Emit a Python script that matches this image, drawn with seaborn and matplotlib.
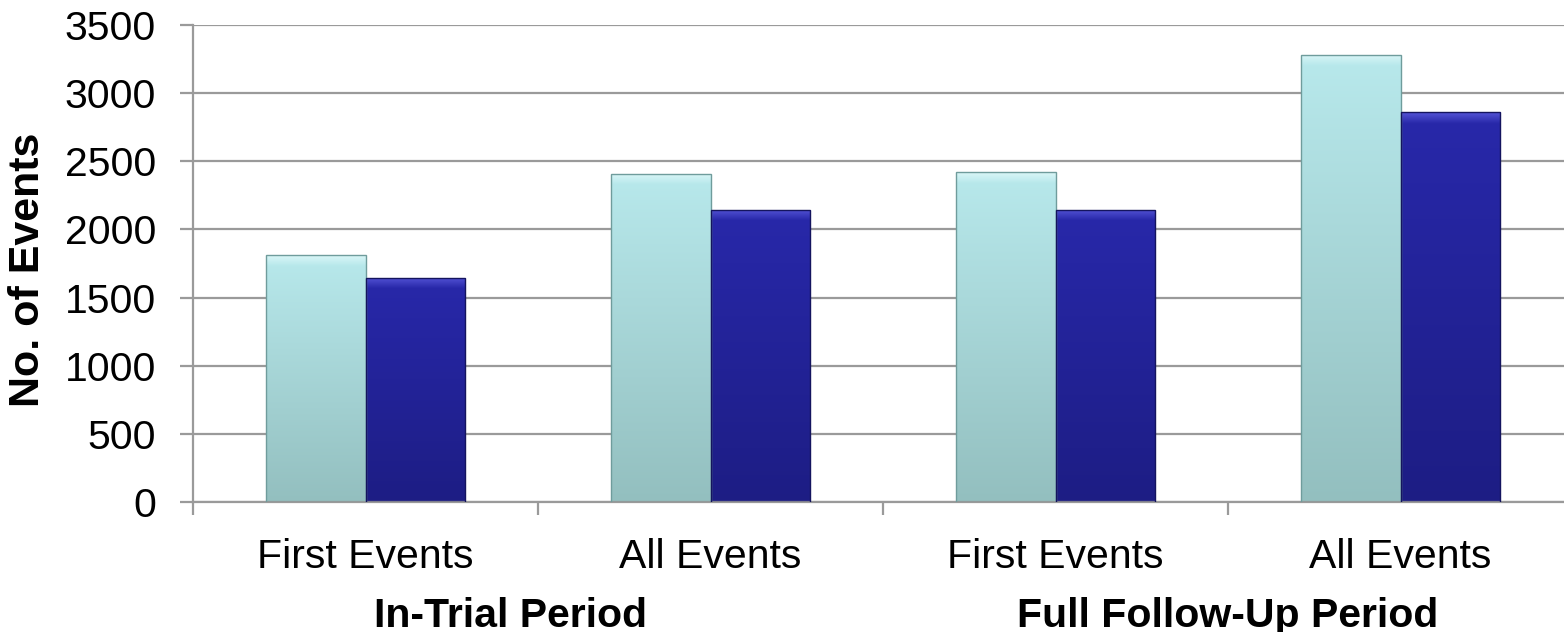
import numpy as np
import pandas as pd
import matplotlib
matplotlib.use("Agg")
import matplotlib.pyplot as plt
import seaborn as sns
from matplotlib.colors import to_rgb
from matplotlib.transforms import blended_transform_factory

# chart values
periods = ["In-Trial Period", "In-Trial Period", "Full Follow-Up Period", "Full Follow-Up Period"]
event_labels = ["First Events", "All Events", "First Events", "All Events"]
series_names = ["Group 1", "Group 2"]
light_values = [1810, 2410, 2420, 3280]
dark_values = [1645, 2145, 2145, 2860]
y_ticks = [0, 500, 1000, 1500, 2000, 2500, 3000, 3500]
group_titles = ["In-Trial Period", "Full Follow-Up Period"]

keys = [f"{p} | {e}" for p, e in zip(periods, event_labels)]
df = pd.DataFrame({
    "slot": keys * 2,
    "series": [series_names[0]] * 4 + [series_names[1]] * 4,
    "events": light_values + dark_values,
})

sns.set_style("white")
plt.rcParams["font.family"] = ["Liberation Sans", "DejaVu Sans"]
plt.rcParams["text.color"] = "black"

GRAY = "#9a9a9a"
# (top, bottom, bevel highlight, edge)
styles = {
    series_names[0]: ("#b8e9ec", "#93bfbf", "#e2f9fa", "#6f9c9c"),
    series_names[1]: ("#2828aa", "#1d1d84", "#5e5ee0", "#14145e"),
}

fig = plt.figure(figsize=(15.64, 6.32), dpi=100)
ax = fig.add_axes([193 / 1564, 1 - 502 / 632, 1380 / 1564, 477 / 632])

sns.barplot(data=df, x="slot", y="events", hue="series", order=keys,
            hue_order=series_names, palette=["#b8e9ec", "#2828aa"],
            width=0.577, gap=0, legend=False, ax=ax, zorder=3)

# paint each bar with a vertical gradient plus a light bevel at the top
bars = [p for p in ax.patches if p.get_height() > 0]
n = len(keys)
for i, patch in enumerate(bars):
    top, bottom, bevel, edge = styles[series_names[i // n]]
    x0, y0 = patch.get_x(), patch.get_y()
    w, h = patch.get_width(), patch.get_height()
    rows = 400
    ys = np.linspace(0, h, rows)
    t = (ys / h)[:, None]
    c_top, c_bot, c_bev = (np.array(to_rgb(c)) for c in (top, bottom, bevel))
    col = c_bot + (c_top - c_bot) * t
    band = 80.0
    dist = h - ys
    k = np.clip(1 - dist / band, 0, 1)[:, None] * 0.8
    col = col * (1 - k) + c_bev * k
    img = np.repeat(col[:, None, :], 2, axis=1)
    im = ax.imshow(img, extent=[x0, x0 + w, y0, y0 + h], origin="lower",
                   aspect="auto", zorder=2.5, interpolation="bilinear")
    im.set_clip_path(patch)
    patch.set_facecolor("none")
    patch.set_edgecolor(edge)
    patch.set_linewidth(1.0)
    patch.set_zorder(3)

ax.set_xlim(-0.5, n - 0.5)
ax.set_ylim(0, 3500)
ax.set_yticks(y_ticks)
ax.set_yticklabels([str(v) for v in y_ticks])
ax.yaxis.grid(True, color=GRAY, linewidth=1.6)
ax.set_axisbelow(True)

ax.set_xticks(range(n))
ax.set_xticklabels(event_labels)
ax.set_xticks(np.arange(-0.5, n, 1.0), minor=True)
ax.tick_params(axis="x", which="major", bottom=True, length=0, labelsize=29.5,
               pad=26, labelcolor="black")
ax.tick_params(axis="x", which="minor", bottom=True, length=9, width=1.6,
               color=GRAY, direction="out")
ax.tick_params(axis="y", left=True, length=9.5, width=1.6, color=GRAY,
               direction="out", labelsize=29.5, pad=17, labelcolor="black")

for side in ["top", "right"]:
    ax.spines[side].set_visible(False)
for side in ["left", "bottom"]:
    ax.spines[side].set_color(GRAY)
    ax.spines[side].set_linewidth(1.6)

ax.set_xlabel("")
ax.set_ylabel("")

# period labels under the pairs of categories
trans = blended_transform_factory(ax.transData, fig.transFigure)
ax.text(0.42, 1 - 627 / 632, group_titles[0], transform=trans, color="black",
        ha="center", va="baseline", fontsize=29.5, fontweight="bold")
ax.text(2.5, 1 - 627 / 632, group_titles[1], transform=trans, color="black",
        ha="center", va="baseline", fontsize=29.5, fontweight="bold")

fig.text(28 / 1564, 1 - 270 / 632, "No. of Events", rotation=90, ha="center",
         va="center", fontsize=31, fontweight="bold", color="black")

fig.savefig("out.png", dpi=100)
